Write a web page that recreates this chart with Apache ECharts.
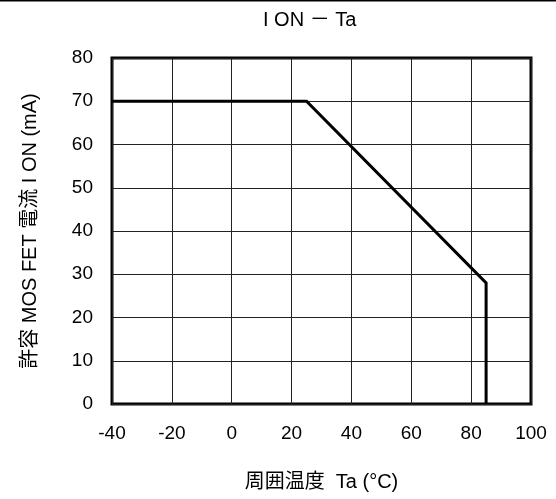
<!DOCTYPE html>
<html>
<head>
<meta charset="utf-8">
<script src="https://cdn.jsdelivr.net/npm/echarts@6/dist/echarts.min.js"></script>
<style>
html,body{margin:0;padding:0;background:#fff;}
#chart{width:556px;height:499px;}
</style>
</head>
<body>
<div id="chart"></div>
<script>
// Data
var temperatureC = [-40, 25, 85, 85];
var ionMilliAmp = [70, 70, 28, 0];
var xTicks = [-40, -20, 0, 20, 40, 60, 80, 100];
var yTicks = [0, 10, 20, 30, 40, 50, 60, 70, 80];
var titleText = 'I ON － Ta';
var xName = '周囲温度  Ta (°C)';
var yName = '許容 MOS FET 電流 I ON (mA)';

var FONT = '"Liberation Sans", Arial, "Noto Sans CJK JP", sans-serif';
var points = temperatureC.map(function (t, i) { return [t, ionMilliAmp[i]]; });

var chart = echarts.init(document.getElementById('chart'), null, {renderer: 'canvas'});
chart.setOption({
  animation: false,
  backgroundColor: '#fff',
  title: {
    text: titleText,
    left: 263,
    top: 10,
    padding: 0,
    textStyle: {fontFamily: FONT, fontSize: 20, fontWeight: 'normal', color: '#000'}
  },
  graphic: [
    {type: 'line', shape: {x1: 0, y1: 0.75, x2: 556, y2: 0.75}, style: {stroke: '#000', lineWidth: 1.5}, silent: true}
  ],
  grid: {
    left: 112, top: 58, width: 419, height: 346,
    show: true, borderColor: '#000', borderWidth: 3, backgroundColor: 'transparent',
    containLabel: false
  },
  xAxis: {
    type: 'value',
    min: xTicks[0], max: xTicks[xTicks.length - 1], interval: 20,
    name: xName, nameLocation: 'middle', nameGap: 68,
    nameTextStyle: {fontFamily: FONT, fontSize: 20, color: '#000'},
    axisLine: {show: false},
    axisTick: {show: false},
    axisLabel: {margin: 20, fontFamily: FONT, fontSize: 19, color: '#000', showMinLabel: true, showMaxLabel: true},
    splitLine: {show: true, lineStyle: {color: '#222', width: 1}}
  },
  yAxis: {
    type: 'value',
    min: yTicks[0], max: yTicks[yTicks.length - 1], interval: 10,
    name: yName, nameLocation: 'middle', nameGap: 72,
    nameTextStyle: {fontFamily: FONT, fontSize: 20, color: '#000'},
    axisLine: {show: false},
    axisTick: {show: false},
    axisLabel: {margin: 19, fontFamily: FONT, fontSize: 19, color: '#000', showMinLabel: true, showMaxLabel: true},
    splitLine: {show: true, lineStyle: {color: '#222', width: 1}}
  },
  series: [{
    type: 'line',
    data: points,
    showSymbol: false,
    symbol: 'none',
    lineStyle: {color: '#000', width: 3, join: 'miter'},
    clip: false,
    z: 5
  }]
});
</script>
</body>
</html>
